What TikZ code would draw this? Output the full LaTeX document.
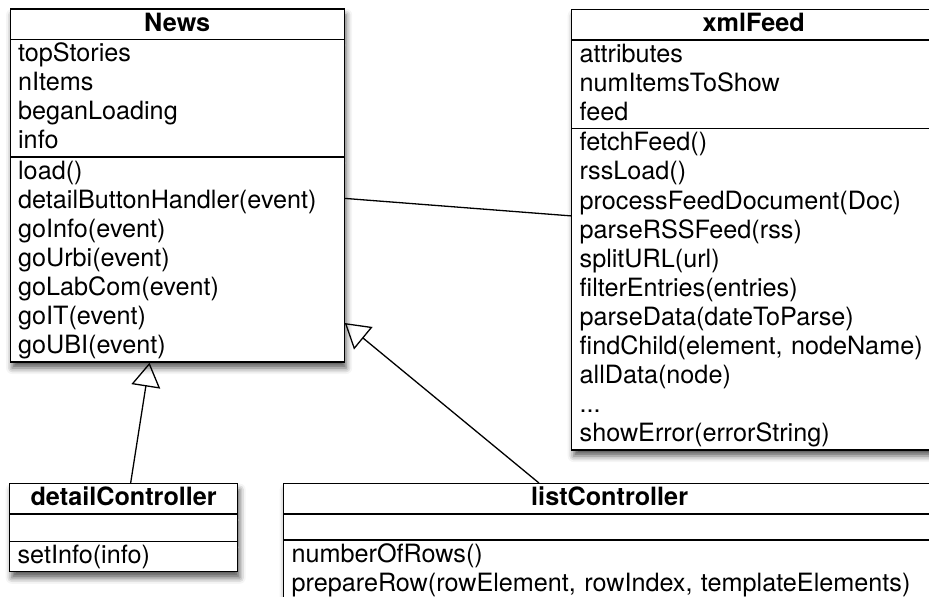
\documentclass[tikz,border=0pt]{standalone}
\usepackage{fontspec}
\setmainfont{TeX Gyre Heros}
\usepackage{tikz}
\usetikzlibrary{shapes.multipart,arrows.meta}
\usetikzlibrary{shadows.blur}

\newcommand{\rw}{\rule[-7.6pt]{0pt}{29.1pt}}
\newcommand{\classtitle}[1]{\hfill\textbf{\rw #1}\hfill\null}

\tikzset{
	umlclass/.style={draw, fill=white, line width=1.3pt, rectangle split, rectangle split parts=3,
		anchor=north west, inner xsep=8pt, inner ysep=0pt, align=left,
		font=\fontsize{25.2}{29.1}\selectfont,
		blur shadow={shadow xshift=2pt, shadow yshift=-6pt, shadow blur radius=6pt, shadow opacity=65}},
	inherit/.style={-{Triangle[open,length=24pt,width=29pt]}, line width=1.3pt},
	assoc/.style={line width=1.3pt}
}

\begin{document}
\begin{tikzpicture}[x=1pt, y=-1pt]
\useasboundingbox (0,0) rectangle (929,597);
\clip (0,0) rectangle (929,597);

\node[umlclass, text width=318pt] (news) at (9.5,8.3)
{\classtitle{News}
	\nodepart{two}\rw topStories\\ \rw nItems\\ \rw beganLoading\\ \rw info
	\nodepart{three}\rw load()\\ \rw detailButtonHandler(event)\\ \rw goInfo(event)\\ \rw goUrbi(event)\\
	\rw goLabCom(event)\\ \rw goIT(event)\\ \rw goUBI(event)};

\node[umlclass, text width=348pt] (feed) at (571,9)
{\classtitle{xmlFeed}
	\nodepart{two}\rw attributes\\ \rw numItemsToShow\\ \rw feed
	\nodepart{three}\rw fetchFeed()\\ \rw rssLoad()\\ \rw processFeedDocument(Doc)\\ \rw parseRSSFeed(rss)\\
	\rw splitURL(url)\\ \rw filterEntries(entries)\\ \rw parseData(dateToParse)\\
	\rw findChild(element, nodeName)\\ \rw allData(node)\\ \rw ...\\ \rw showError(errorString)};

\node[umlclass, text width=212pt] (detail) at (9,483)
{\classtitle{detailController}
	\nodepart{two}\rule{0pt}{26pt}
	\nodepart{three}\rw setInfo(info)};

\node[umlclass, text width=636pt] (list) at (283,483)
{\classtitle{listController}
	\nodepart{two}\rule{0pt}{24.5pt}
	\nodepart{three}\rw numberOfRows()\\ \rw prepareRow(rowElement, rowIndex, templateElements)};

\path[assoc] (news) edge (feed);
\path[inherit]
(detail) edge (news)
(list) edge (news)
;
\end{tikzpicture}
\end{document}
